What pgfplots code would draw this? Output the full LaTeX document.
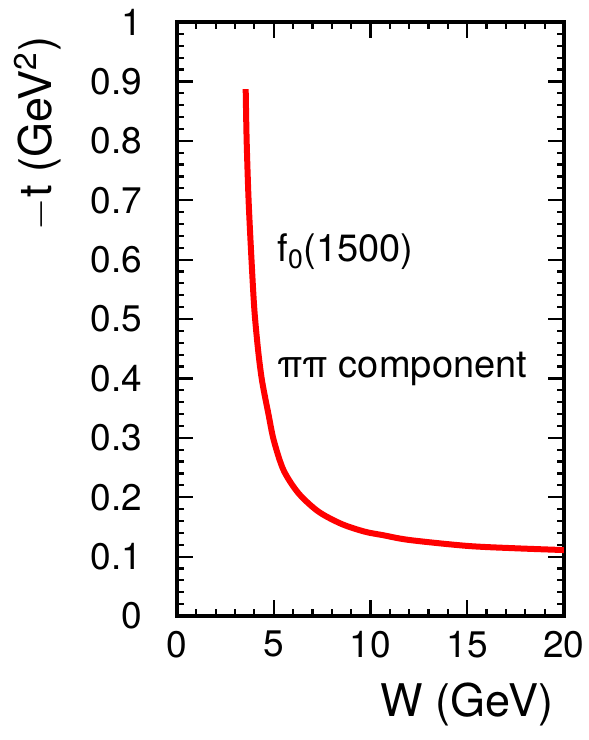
\documentclass[border=0pt]{standalone}
\usepackage{fontspec}
\setmainfont{TeX Gyre Heros}
\usepackage{pgfplots}
\pgfplotsset{compat=1.18}
\begin{document}
\begin{tikzpicture}
\path[use as bounding box] (-88.5pt,-62pt) rectangle (206pt,308pt);
\begin{axis}[
  scale only axis, width=193.5pt, height=297pt,
  xmin=0, xmax=20, ymin=0, ymax=1,
  xtick={0,5,10,15,20}, minor x tick num=4,
  ytick={0,0.1,0.2,0.3,0.4,0.5,0.6,0.7,0.8,0.9,1},
  yticklabels={0,0.1,0.2,0.3,0.4,0.5,0.6,0.7,0.8,0.9,1},
  minor y tick num=4,
  tick align=inside,
  major tick length=8pt, minor tick length=3.5pt,
  axis line style={line width=2pt},
  every tick/.style={black, line width=1.1pt},
  tick label style={font=\fontsize{18.5}{22}\selectfont},
  /pgf/number format/assume math mode=true,
  yticklabel shift=14pt, xticklabel shift=4pt,
  xlabel={W (GeV)},
  ylabel={\(-\)t (GeV\textsuperscript{2})},
  label style={font=\fontsize{22.5}{27}\selectfont},
  xlabel style={at={(axis description cs:0.99,-0.17)}, anchor=base east},
  ylabel style={at={(axis description cs:-0.36,0.987)}, anchor=east},
]
\addplot[red, line width=3pt, smooth, line cap=butt] coordinates {
  (3.55,0.887) (3.6,0.80) (3.7,0.70) (3.85,0.60) (4.0,0.515) (4.2,0.445)
  (4.4,0.395) (4.72,0.341) (5.0,0.296) (5.5,0.246) (6.27,0.207) (7.3,0.176)
  (8.5,0.155) (9.7,0.142) (10.66,0.136) (12,0.128) (15,0.118) (17.5,0.114) (20,0.111)
};
\node[anchor=base west, font=\fontsize{19}{22}\selectfont, inner sep=0pt] at (axis cs:5.17,0.596) {f\textsubscript{0}(1500)};
\node[anchor=base west, font=\fontsize{19}{22}\selectfont, inner sep=0pt] at (axis cs:5.17,0.402) {ππ component};
\end{axis}
\end{tikzpicture}
\end{document}
